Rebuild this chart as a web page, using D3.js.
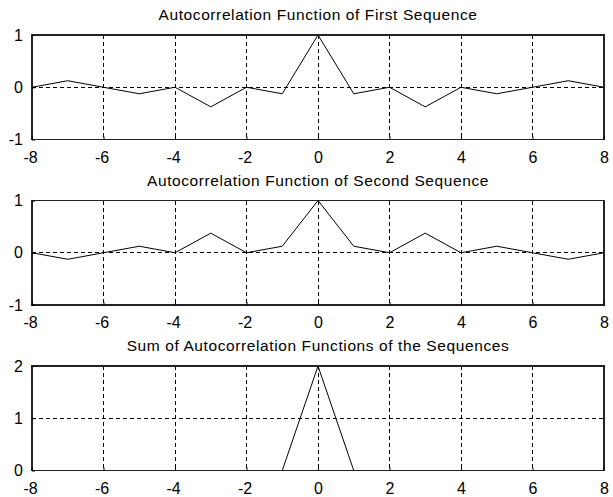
<!DOCTYPE html>
<html>
<head>
<meta charset="utf-8">
<script src="https://cdn.jsdelivr.net/npm/d3@7"></script>
<style>
  html, body { margin: 0; padding: 0; background: #fff; }
  svg { display: block; }
  text { font-family: "Liberation Sans", Arial, sans-serif; fill: #000; }
</style>
</head>
<body>
<svg id="chart" width="613" height="497"></svg>
<script>
// ---- data ----
const lags = [-8, -7, -6, -5, -4, -3, -2, -1, 0, 1, 2, 3, 4, 5, 6, 7, 8];
const acfFirst  = [0, 0.125, 0, -0.125, 0, -0.375, 0, -0.125, 1, -0.125, 0, -0.375, 0, -0.125, 0, 0.125, 0];
const acfSecond = [0, -0.125, 0, 0.125, 0, 0.375, 0, 0.125, 1, 0.125, 0, 0.375, 0, 0.125, 0, -0.125, 0];
const acfSum    = [0, 0, 0, 0, 0, 0, 0, 0, 2, 0, 0, 0, 0, 0, 0, 0, 0];
const titles = [
  "Autocorrelation Function of First Sequence",
  "Autocorrelation Function of Second Sequence",
  "Sum of Autocorrelation Functions of the Sequences"
];
const xTicks = [-8, -6, -4, -2, 0, 2, 4, 6, 8];
const yTicksA = [-1, 0, 1];
const yTicksSum = [0, 1, 2];

// ---- layout ----
const svg = d3.select("#chart");
const left = 32, right = 604, plotH = 104.5;
const tops = [35, 200.5, 366];
const panels = [
  { title: titles[0], values: acfFirst,  domain: [-1, 1], yt: yTicksA },
  { title: titles[1], values: acfSecond, domain: [-1, 1], yt: yTicksA },
  { title: titles[2], values: acfSum,    domain: [0, 2],  yt: yTicksSum }
];

const x = d3.scaleLinear().domain([-8, 8]).range([left, right]);
const fmt = d => String(d); // hyphen-minus like the reference

panels.forEach((p, i) => {
  const top = tops[i], bottom = top + plotH;
  const y = d3.scaleLinear().domain(p.domain).range([bottom, top]);
  const g = svg.append("g");

  // grid
  g.selectAll(".vg").data(xTicks).enter().append("line")
    .attr("x1", d => x(d)).attr("x2", d => x(d))
    .attr("y1", top).attr("y2", bottom)
    .attr("stroke", "#000").attr("stroke-width", 1)
    .attr("stroke-dasharray", "4,3")
    .attr("shape-rendering", "crispEdges");
  g.selectAll(".hg").data(p.yt).enter().append("line")
    .attr("x1", left).attr("x2", right)
    .attr("y1", d => y(d)).attr("y2", d => y(d))
    .attr("stroke", "#000").attr("stroke-width", 1)
    .attr("stroke-dasharray", "4,3")
    .attr("shape-rendering", "crispEdges");

  // data line
  const line = d3.line().x((d, k) => x(lags[k])).y(d => y(d));
  g.append("path").datum(p.values)
    .attr("d", line)
    .attr("fill", "none").attr("stroke", "#000").attr("stroke-width", 1);

  // box
  g.append("rect")
    .attr("x", left).attr("y", top)
    .attr("width", right - left).attr("height", plotH)
    .attr("fill", "none").attr("stroke", "#222").attr("stroke-width", 1.2)
    .attr("shape-rendering", "crispEdges");

  // axes (inward ticks)
  const xb = d3.axisBottom(x).tickValues(xTicks).tickSize(-3).tickPadding(12).tickFormat(fmt);
  const ax = g.append("g").attr("transform", `translate(0,${bottom})`).call(xb);
  ax.select(".domain").remove();
  ax.selectAll("line").attr("stroke", "#000");
  ax.selectAll("text").style("font-size", "16px")
    .attr("dx", d => d < 0 ? -2 : 0);

  const yl = d3.axisLeft(y).tickValues(p.yt).tickSize(-3).tickPadding(9).tickFormat(fmt);
  const ay = g.append("g").attr("transform", `translate(${left},0)`).call(yl);
  ay.select(".domain").remove();
  ay.selectAll("line").attr("stroke", "#000");
  ay.selectAll("text").style("font-size", "16px");

  // title
  g.append("text")
    .attr("x", (left + right) / 2).attr("y", top - 15)
    .attr("text-anchor", "middle")
    .style("font-size", "15.5px")
    .style("letter-spacing", "0.6px")
    .text(p.title);
});
</script>
</body>
</html>
